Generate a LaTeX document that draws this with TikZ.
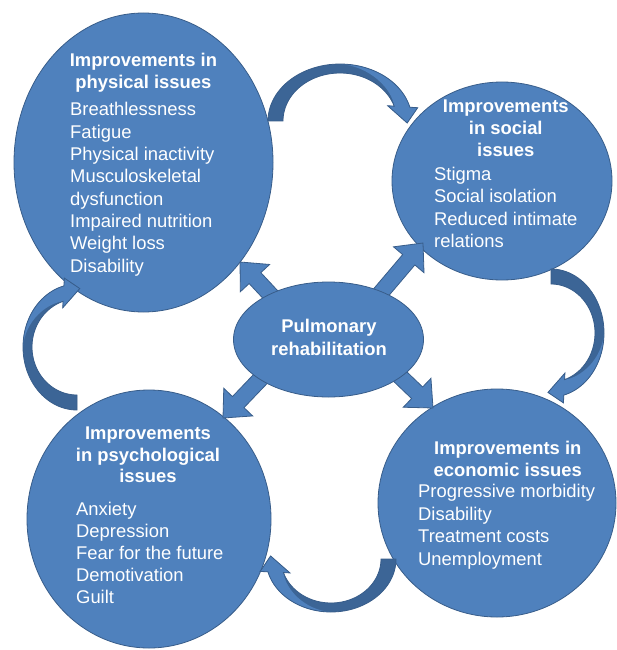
\documentclass[tikz,border=0pt]{standalone}
\usepackage{fontspec}
\setmainfont{Liberation Sans}
\usetikzlibrary{calc,shapes.geometric}
\definecolor{cfill}{RGB}{79,129,189}
\definecolor{cline}{RGB}{56,93,138}
\definecolor{cdark}{RGB}{60,101,150}
\tikzset{
  ell/.style={ellipse, draw=cline, fill=cfill, line width=0.8pt, inner sep=0pt, outer sep=0pt},
  hdr/.style={font=\fontsize{18.4}{22}\selectfont\bfseries, text=white, inner sep=0pt, anchor=base},
  lst/.style={font=\fontsize{18.4}{22}\selectfont, text=white, inner sep=0pt, anchor=base west},
  blk/.style={fill=cfill, draw=cline, line width=0.8pt, line join=miter},
  cvline/.style={draw=cline, line width=0.8pt, line join=miter},
}
\newcommand\blkarrow[2]{%
  \coordinate (#1-h) at ($(#2)!22pt!(#1)$);
  \path[blk] ($(#1)!8pt!90:(#2)$) -- ($(#1-h)!8pt!90:(#2)$) -- ($(#1-h)!20pt!90:(#2)$) -- (#2)
    -- ($(#1-h)!20pt!-90:(#2)$) -- ($(#1-h)!8pt!-90:(#2)$) -- ($(#1)!8pt!-90:(#2)$) -- cycle;}
\newcommand\curvarr[5]{%
  \begin{scope}[shift={(#1,#2)},rotate=#3]
  \pgfmathsetmacro\cvA{#4}
  \pgfmathsetmacro\cvB{#5}
  \pgfmathsetmacro\cvAi{#4-15}
  \pgfmathsetmacro\cvBi{#5-9}
  \pgfmathsetmacro\cvOx{\cvA*cos(14)}
  \pgfmathsetmacro\cvOy{-\cvB*sin(14)}
  \pgfmathsetmacro\cvIx{\cvAi*cos(18)}
  \pgfmathsetmacro\cvIy{-\cvBi*sin(18)}
  \pgfmathsetmacro\cvPx{\cvOx+0.5*(\cvOx-\cvIx)}
  \pgfmathsetmacro\cvPy{\cvOy+0.5*(\cvOy-\cvIy)}
  \pgfmathsetmacro\cvQx{\cvIx+0.42*(\cvIx-\cvOx)}
  \pgfmathsetmacro\cvQy{\cvIy+0.42*(\cvIy-\cvOy)}
  \pgfmathsetmacro\cvTx{\cvQx+0.65*(\cvPx-\cvQx)}
  \pgfmathsetmacro\cvTy{\cvQy+0.65*(\cvPy-\cvQy)+16}
  \fill[cdark] (-\cvA,0) -- plot[domain=180:14,samples=50,variable=\t] ({\cvA*cos(\t)},{-\cvB*sin(\t)})
     -- (\cvPx,\cvPy) -- (\cvTx,\cvTy) -- (\cvQx,\cvQy) -- (\cvIx,\cvIy)
     -- plot[domain=18:180,samples=50,variable=\t] ({\cvAi*cos(\t)},{-\cvBi*sin(\t)}) -- cycle;
  \fill[cfill] (0,-\cvB) -- plot[domain=90:14,samples=40,variable=\t] ({\cvA*cos(\t)},{-\cvB*sin(\t)})
     -- (\cvPx,\cvPy) -- (\cvTx,\cvTy) -- (\cvQx,\cvQy) -- (\cvIx,\cvIy)
     .. controls ({0.96*\cvIx},{\cvIy-0.3*\cvB}) and ({0.42*\cvA},{-0.96*\cvB}) .. (0,-\cvB) -- cycle;
  \path[cvline] (-\cvA,0) -- plot[domain=180:14,samples=50,variable=\t] ({\cvA*cos(\t)},{-\cvB*sin(\t)})
     -- (\cvPx,\cvPy) -- (\cvTx,\cvTy) -- (\cvQx,\cvQy) -- (\cvIx,\cvIy)
     -- plot[domain=18:180,samples=50,variable=\t] ({\cvAi*cos(\t)},{-\cvBi*sin(\t)}) -- cycle;
  \end{scope}}
\begin{document}
\begin{tikzpicture}[x=1pt,y=-1pt]
\fill[white] (0,0) rectangle (617,650);
\useasboundingbox (0,0) rectangle (617,650);
% outer ellipses
\node[ell, minimum width=259pt, minimum height=299pt] (phys) at (143.5,162.5) {};
\node[ell, minimum width=220pt, minimum height=198pt] (soc) at (502,181) {};
\node[ell, minimum width=244pt, minimum height=258pt] (psy) at (149,519) {};
\node[ell, minimum width=238pt, minimum height=228pt] (eco) at (497,503) {};
% straight block arrows from the centre
\coordinate (ulS) at (281,306); \coordinate (ulT) at (240,262);
\coordinate (urS) at (378,296); \coordinate (urT) at (423,243);
\coordinate (llS) at (268,371); \coordinate (llT) at (223,418);
\coordinate (lrS) at (386,363); \coordinate (lrT) at (433,408);
\blkarrow{ulS}{ulT}
\blkarrow{urS}{urT}
\blkarrow{llS}{llT}
\blkarrow{lrS}{lrT}
% centre ellipse
\node[ell, minimum width=190pt, minimum height=115pt] (pr) at (328.5,339.5) {};
% curved arrows
\curvarr{340}{121}{0}{72}{57}
\curvarr{551}{333}{-90}{64}{53}
\curvarr{331}{559}{180}{65}{53}
\curvarr{77}{347}{90}{63}{54}
% texts
\node[hdr] (pr-1) at (329,332.7) {Pulmonary};
\node[hdr] (pr-2) at (329,355) {rehabilitation};
\node[hdr] (phys-h1) at (143.4,66.7) {Improvements in};
\node[hdr] (phys-h2) at (143.4,88.7) {physical issues};
\foreach \s [count=\i] in {Breathlessness,Fatigue,Physical inactivity,Musculoskeletal,dysfunction,Impaired nutrition,Weight loss,Disability}
  \node[lst] (phys-l\i) at (70,{116+22.3*(\i-1)}) {\s};
\node[hdr] (soc-h1) at (505.8,112.7) {Improvements};
\node[hdr] (soc-h2) at (505.8,134.7) {in social};
\node[hdr] (soc-h3) at (505.8,156.7) {issues};
\foreach \s [count=\i] in {Stigma,Social isolation,Reduced intimate,relations}
  \node[lst] (soc-l\i) at (434,{180.5+22.3*(\i-1)}) {\s};
\node[hdr] (psy-h1) at (148,439.3) {Improvements};
\node[hdr] (psy-h2) at (148,461.1) {in psychological};
\node[hdr] (psy-h3) at (148,482.9) {issues};
\foreach \s [count=\i] in {Anxiety,Depression,Fear for the future,Demotivation,Guilt}
  \node[lst] (psy-l\i) at (76,{515.5+22*(\i-1)}) {\s};
\node[hdr] (eco-h1) at (507.8,454) {Improvements in};
\node[hdr] (eco-h2) at (507.8,476) {economic issues};
\foreach \s [count=\i] in {Progressive morbidity,Disability,Treatment costs,Unemployment}
  \node[lst] (eco-l\i) at (418,{497.5+22.5*(\i-1)}) {\s};
\end{tikzpicture}
\end{document}
